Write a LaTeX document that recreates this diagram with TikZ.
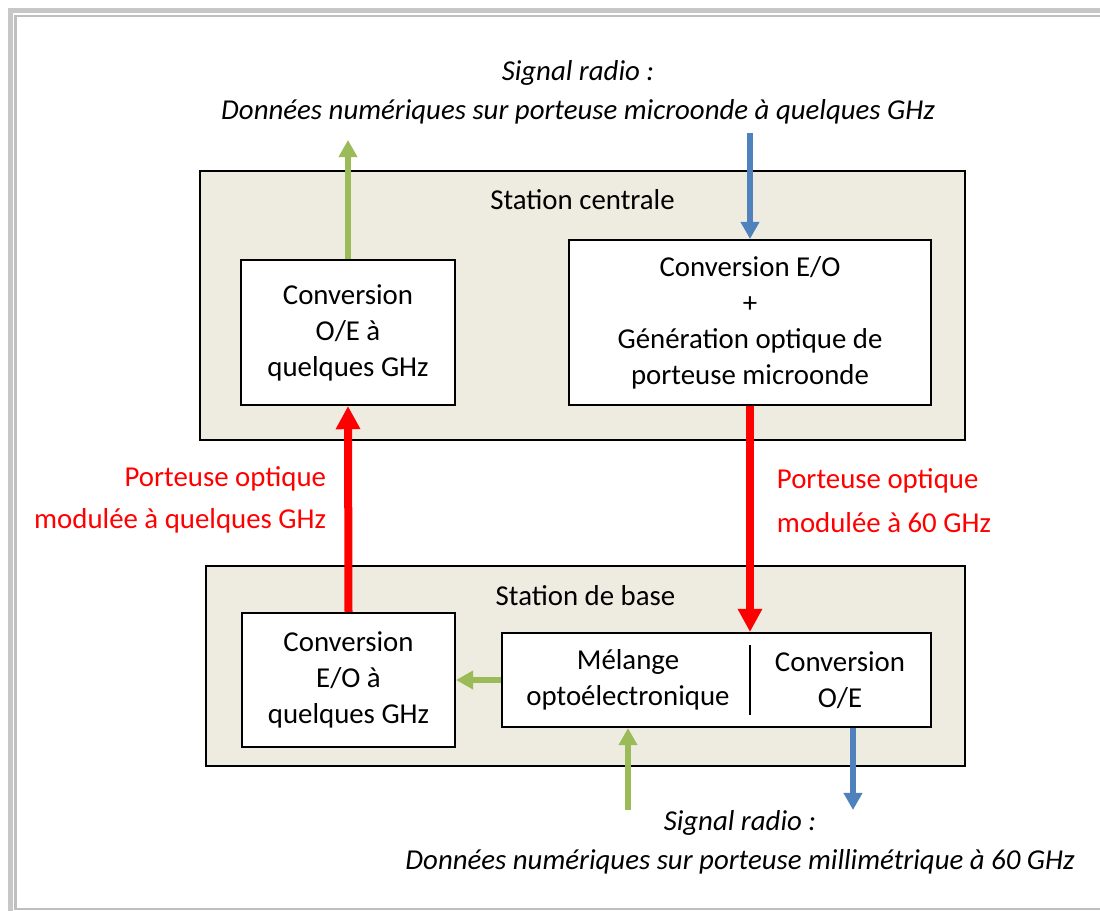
\documentclass[tikz,border=0pt]{standalone}
\usepackage{fontspec}
\setmainfont{Carlito}
\usetikzlibrary{arrows.meta}
\definecolor{sgreen}{HTML}{9BBB59}
\definecolor{sblue}{HTML}{4F81BD}
\definecolor{sfill}{HTML}{EEECE1}
\begin{document}
\begin{tikzpicture}[
        x=0.025cm,y=-0.025cm,
        every node/.style={font=\fontsize{20.5}{25.6}\selectfont},
        ssty/.style={
            draw,fill=sfill,
            line width=0.05cm,
        },
        bsty/.style={
            draw,fill=white,
            line width=0.05cm,
            align=center,inner sep=0pt,
        },
        isty/.style={font=\fontsize{20.5}{25.6}\selectfont\itshape},
        lsty/.style={text=red},
        gsty/.style={draw=sgreen,line width=0.15cm,-{Triangle[width=0.45cm,length=0.43cm]}},
        bssty/.style={draw=sblue,line width=0.15cm,-{Triangle[width=0.45cm,length=0.43cm]}},
        rsty/.style={draw=red,line width=0.2cm,-{Triangle[width=0.58cm,length=0.58cm]}},
    ]
    \useasboundingbox (0,0) rectangle (1100,910);
    \clip (0,0) rectangle (1100,910);
    \draw[line width=0.125cm,black!22] (10.5,10.5) rectangle (1112,925);
    \draw[line width=0.05cm,black!25] (15.5,15.5) rectangle (1105,909);

    % station centrale
    \node[ssty,minimum width=19.125cm,minimum height=6.725cm] at (582.5,305.5) (sc) {};
    \node at (582.5,200) (sctxt) {Station centrale};
    \node[bsty,minimum width=5.35cm,minimum height=3.625cm] at (348,332.5) (oe) {Conversion\\O/E à\\quelques GHz};
    \node[bsty,minimum width=9.05cm,minimum height=4.125cm] at (750,322.5) (eo) {Conversion E/O\\+\\Génération optique de\\porteuse microonde};

    % station de base
    \node[ssty,minimum width=18.975cm,minimum height=5cm] at (585.5,666) (sb) {};
    \node at (585.5,596) (sbtxt) {Station de base};
    \node[bsty,minimum width=5.325cm,minimum height=3.35cm] at (348.5,680) (beo) {Conversion\\E/O à\\quelques GHz};
    \node[bsty,minimum width=10.725cm,minimum height=2.35cm] at (716.5,680) (mix) {};
    \node[align=center] at (628,680) (mixa) {Mélange\\optoélectronique};
    \node[align=center] at (840,680) (mixb) {Conversion\\O/E};
    \draw[line width=0.05cm] (750,645) -- (750,715);

    % signaux radio
    \node[isty] at (578,73) (top1) {Signal radio :};
    \node[isty] at (578,112) (top2) {Données numériques sur porteuse microonde à quelques GHz};
    \node[isty] at (740,823) (bot1) {Signal radio :};
    \node[isty] at (740,862) (bot2) {Données numériques sur porteuse millimétrique à 60 GHz};
    \coordinate (gout) at (348,140);
    \coordinate (bin) at (750,133);
    \coordinate (gin) at (628,810);
    \coordinate (bout) at (853,810);

    % liaisons optiques
    \node[lsty,anchor=east] at (331,479) (la1) {Porteuse optique};
    \node[lsty,anchor=east] at (331,521) (la2) {modulée à quelques GHz};
    \node[lsty,anchor=west] at (772,481) (lb1) {Porteuse optique};
    \node[lsty,anchor=west] at (772,523) (lb2) {modulée à 60 GHz};

    \draw[gsty] (oe.north) -- (gout);
    \draw[bssty] (bin) -- (eo.north);
    \draw[rsty] (beo.north) -- (oe.south);
    \draw[rsty] (eo.south) -- (eo.south |- mix.north);
    \draw[gsty] (mix.west) -- (beo.east);
    \draw[gsty] (gin) -- (gin |- mix.south);
    \draw[bssty] (bout |- mix.south) -- (bout);
\end{tikzpicture}
\end{document}
